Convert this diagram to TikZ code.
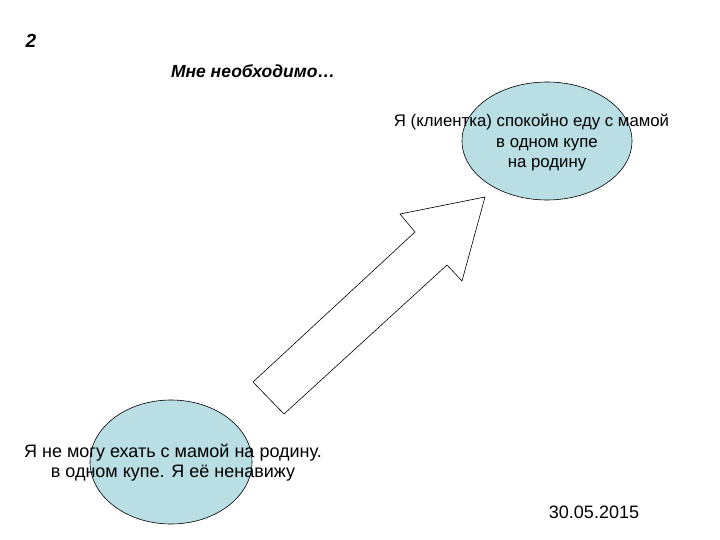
\documentclass[tikz,border=0pt]{standalone}
\usepackage{fontspec}
\setmainfont{Liberation Sans}
\usetikzlibrary{shapes.geometric}
\definecolor{ellfill}{RGB}{185,222,228}
\begin{document}
\begin{tikzpicture}[x=1bp,y=-1bp,
  ell/.style={draw=black,line width=0.6bp,fill=ellfill,ellipse,inner sep=0pt},
  txt/.style={font=\fontsize{18bp}{20bp}\selectfont,align=center,inner sep=0pt},
  blockarrow/.style={draw=black,line width=0.6bp,fill=white,line join=miter}]
\useasboundingbox (0,0) rectangle (720,540);
\fill[white] (0,0) rectangle (720,540);
% ellipses
\node[ell,minimum width=170bp,minimum height=118bp] (top) at (547,141) {};
\node[ell,minimum width=162bp,minimum height=124bp] (bot) at (171,462) {};
% block arrow
\coordinate (a1) at (253,382);
\coordinate (a2) at (284,414);
\coordinate (a3) at (447,265);
\coordinate (a4) at (462,281);
\coordinate (a5) at (485,197);
\coordinate (a6) at (400,214);
\coordinate (a7) at (415,232);
\draw[blockarrow] (a1) -- (a2) -- (a3) -- (a4) -- (a5) -- (a6) -- (a7) -- cycle;
% texts
\node[txt] (num) at (31,41) {\fontsize{19bp}{20bp}\selectfont\bfseries\itshape 2};
\node[txt] (title) at (253,71) {\fontsize{17.5bp}{18bp}\selectfont\bfseries\itshape Мне необходимо…};
\node[txt,font=\fontsize{16.8bp}{20.5bp}\selectfont] (toptext) at (547,143) {Я (клиентка) спокойно еду с мамой\hspace*{31bp}\\в одном купе\\на родину};
\node[txt] (bottext) at (173,463) {Я не могу ехать с мамой на родину.\\в одном купе. Я её ненавижу};
\node[txt] (date) at (594,512) {30.05.2015};
\end{tikzpicture}
\end{document}
